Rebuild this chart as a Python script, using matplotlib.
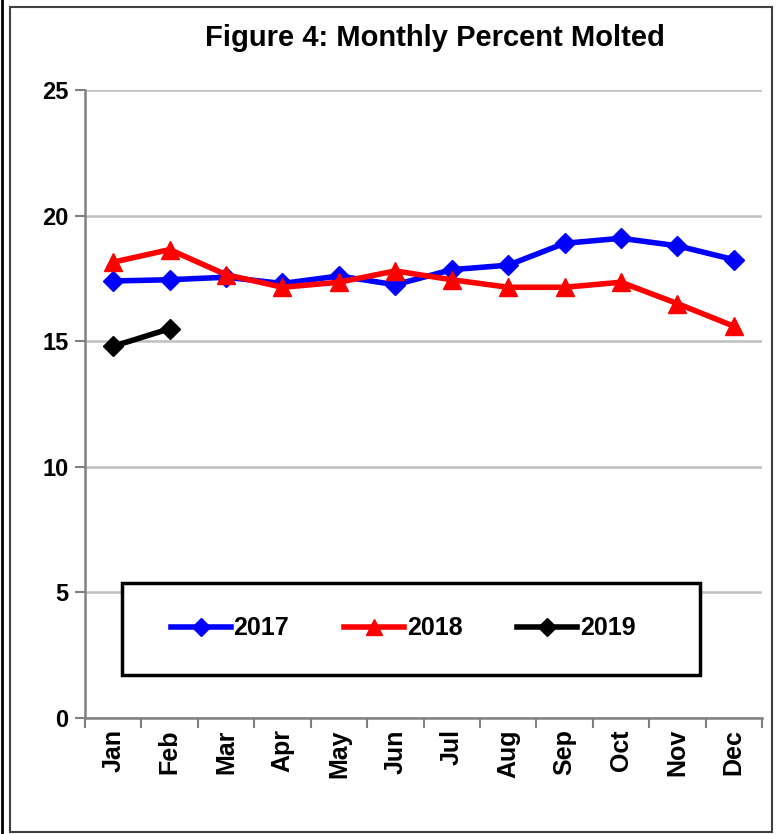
import matplotlib.pyplot as plt
from matplotlib.patches import Rectangle
from matplotlib.lines import Line2D

months = ["Jan", "Feb", "Mar", "Apr", "May", "Jun", "Jul", "Aug", "Sep", "Oct", "Nov", "Dec"]
y2017 = [17.4, 17.45, 17.55, 17.3, 17.6, 17.25, 17.85, 18.03, 18.9, 19.1, 18.8, 18.25]
y2018 = [18.15, 18.65, 17.65, 17.15, 17.35, 17.8, 17.45, 17.15, 17.15, 17.35, 16.5, 15.6]
y2019 = [14.8, 15.5]
yticks = [0, 5, 10, 15, 20, 25]

fnt = ["Liberation Sans", "DejaVu Sans"]

fig = plt.figure(figsize=(7.83, 8.34), dpi=100)
ax = fig.add_axes([0.1086, 0.139, 0.8646, 0.753])

x = list(range(len(months)))
ax.plot(x, y2017, color="#0000ff", lw=4, marker="D", ms=10, label="2017")
ax.plot(x, y2018, color="#ff0000", lw=4, marker="^", ms=13, label="2018")
ax.plot(x[:len(y2019)], y2019, color="black", lw=4, marker="D", ms=10, label="2019")

ax.set_xlim(-0.5, len(months) - 0.5)
ax.set_ylim(0, 25)
ax.set_yticks(yticks)
ax.set_yticklabels([str(v) for v in yticks], family=fnt, fontweight="bold", fontsize=17)
ax.set_xticks(x)
ax.set_xticklabels(months, rotation=90, family=fnt, fontweight="bold", fontsize=18)
ax.set_xticks([i - 0.5 for i in range(len(months) + 1)], minor=True)
ax.tick_params(axis="x", which="major", length=0, pad=8)
ax.tick_params(axis="x", which="minor", length=7, color="#808080", width=1.5)
ax.tick_params(axis="y", length=7, color="#808080", width=1.5, pad=5)

ax.grid(axis="y", color="#c0c0c0", lw=1.8)
ax.set_axisbelow(True)
for s in ["top", "right"]:
    ax.spines[s].set_visible(False)
for s in ["left", "bottom"]:
    ax.spines[s].set_color("#808080")
    ax.spines[s].set_linewidth(1.8)

fig.text(0.556, 0.954, "Figure 4: Monthly Percent Molted", ha="center", va="center",
         family=fnt, fontweight="bold", fontsize=21)

# legend box
ax.add_patch(Rectangle((0.055, 0.068), 0.853, 0.147, transform=ax.transAxes,
                       fill=True, facecolor="white", edgecolor="black", lw=2.5, zorder=5))
leg = ax.legend(loc="center", bbox_to_anchor=(0.47, 0.143), ncol=3, frameon=False,
                prop={"family": fnt, "weight": "bold", "size": 18},
                handlelength=2.4, handletextpad=0.1, columnspacing=2.2, markerscale=0.9)
leg.set_zorder(6)

# outer frame
fig.patches.append(Rectangle((10 / 783, 2 / 834), 762 / 783, 825 / 834, transform=fig.transFigure,
                             fill=False, edgecolor="#404040", lw=1.5))
fig.lines.append(Line2D([2 / 783, 2 / 783], [0, 1], transform=fig.transFigure, color="black", lw=2))

fig.savefig("out.png", dpi=100)
